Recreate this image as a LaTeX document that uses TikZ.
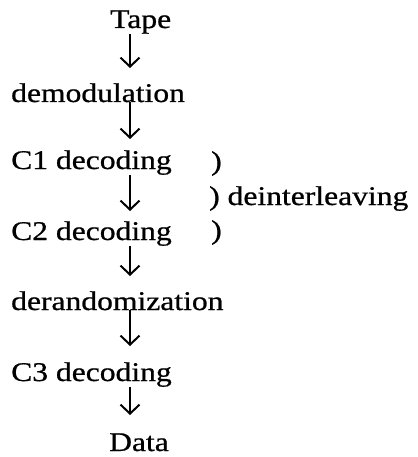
\documentclass[tikz,border=0pt]{standalone}
\usepackage{fontspec}
\setmainfont{Liberation Serif}[FakeBold=0.7]
\usepackage{graphicx}
\usetikzlibrary{arrows.meta}
\newcommand{\wtxt}[1]{\scalebox{1.17}[1]{#1}}
\begin{document}
\begin{tikzpicture}[x=1pt,y=1pt,
  lbl/.style={inner sep=0pt, anchor=base west, font=\fontsize{27}{32}\selectfont},
  arr/.style={line width=1.3pt, -{Straight Barb[length=9pt, width=19pt, line width=2pt]}}]
\useasboundingbox (0,0) rectangle (417,-457);
\node[lbl] (tape) at (110,-28) {\wtxt{Tape}};
\node[lbl] (demod) at (11,-102) {\wtxt{demodulation}};
\node[lbl] (c1) at (11,-169) {\wtxt{C1 decoding}};
\node[lbl] (p1) at (211,-170) {\wtxt{)}};
\node[lbl] (deint) at (209,-205) {\wtxt{) deinterleaving}};
\node[lbl] (c2) at (11,-240) {\wtxt{C2 decoding}};
\node[lbl] (p2) at (211,-239) {\wtxt{)}};
\node[lbl] (derand) at (11,-310) {\wtxt{derandomization}};
\node[lbl] (c3) at (11,-381) {\wtxt{C3 decoding}};
\node[lbl] (data) at (109,-451) {\wtxt{Data}};
\coordinate (t1) at (130,-68);
\coordinate (t2) at (130,-139);
\coordinate (t3) at (130,-211);
\coordinate (t4) at (130,-276);
\coordinate (t5) at (130,-346);
\coordinate (t6) at (130,-415);
\draw[arr] (tape.south -| t1) -- (t1);
\draw[arr] (demod.south -| t2) -- (t2);
\draw[arr] (c1.south -| t3) -- (t3);
\draw[arr] (c2.south -| t4) -- (t4);
\draw[arr] (derand.south -| t5) -- (t5);
\draw[arr] (c3.south -| t6) -- (t6);
\end{tikzpicture}
\end{document}
